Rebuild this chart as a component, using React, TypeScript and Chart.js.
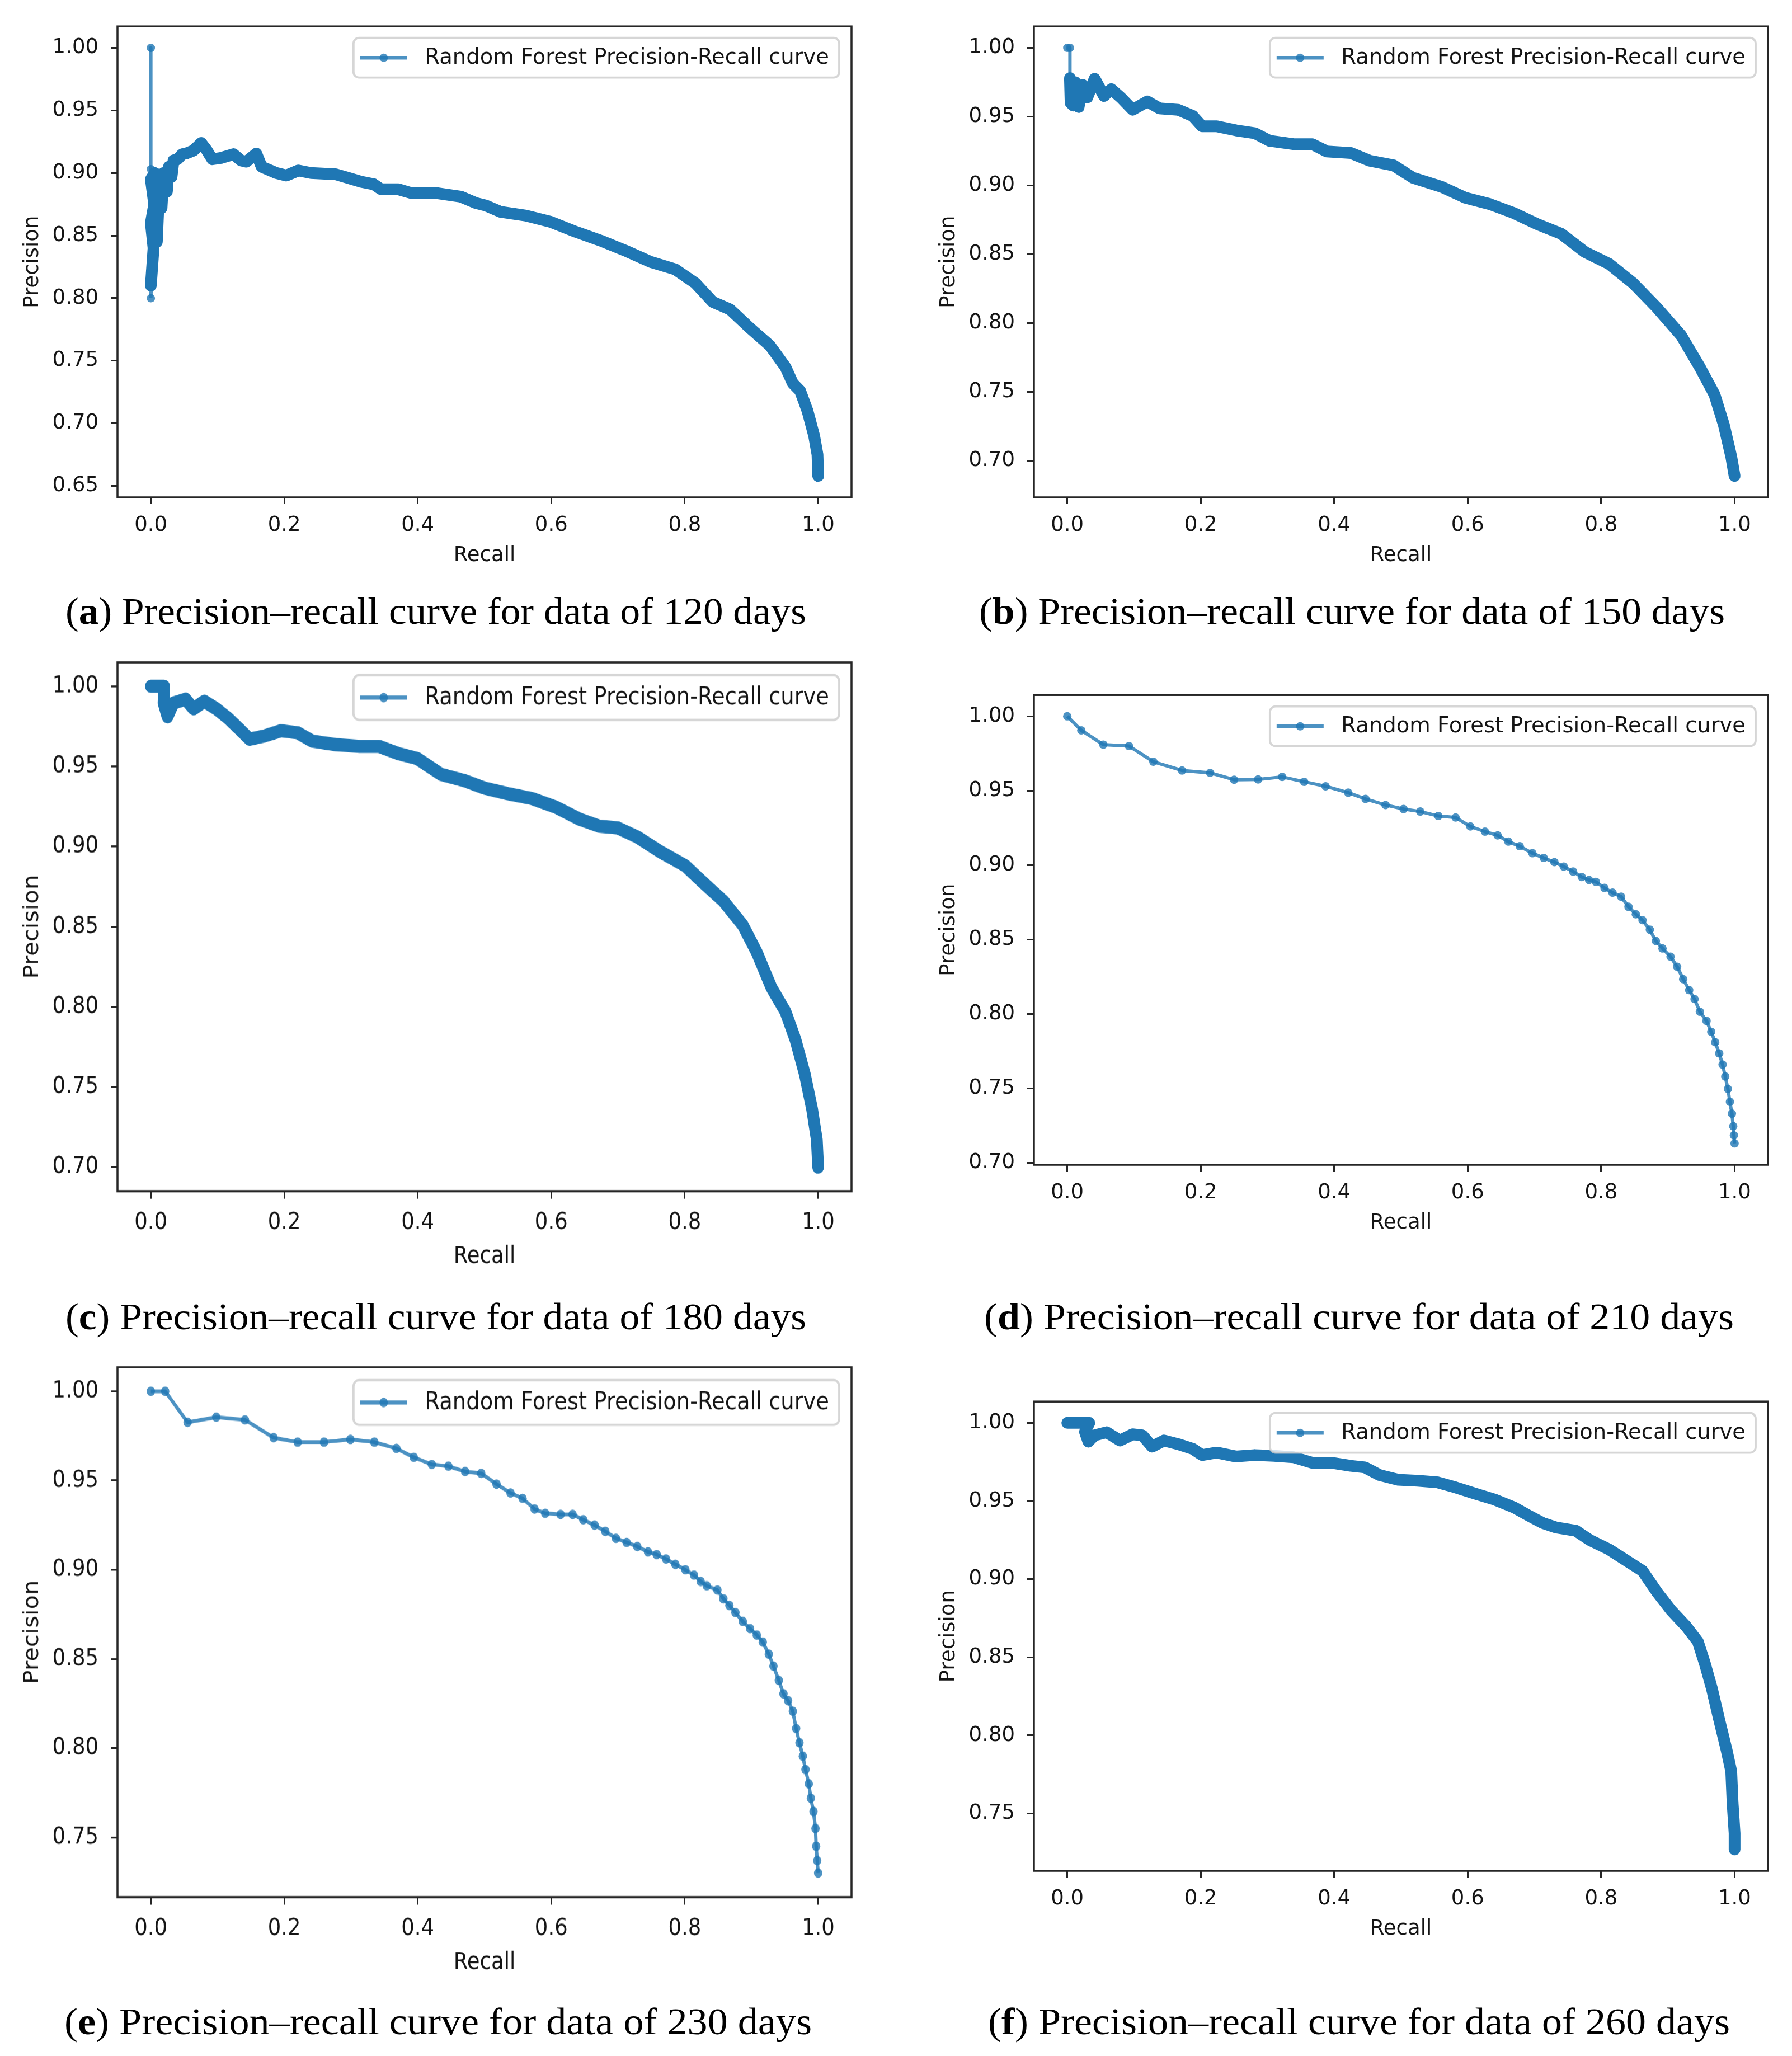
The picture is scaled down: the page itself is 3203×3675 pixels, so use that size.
import React, { useEffect, useLayoutEffect, useRef } from 'react';
import { Chart, registerables } from 'chart.js';

Chart.register(...registerables);

// ---------------- data ----------------
const LEGEND_LABEL = 'Random Forest Precision-Recall curve';
const X_TITLE = 'Recall';
const Y_TITLE = 'Precision';
const X_TICKS = [0, 0.2, 0.4, 0.6, 0.8, 1.0];
const Y_TICKS_A = [0.65, 0.7, 0.75, 0.8, 0.85, 0.9, 0.95, 1.0];
const Y_TICKS_BCD = [0.7, 0.75, 0.8, 0.85, 0.9, 0.95, 1.0];
const Y_TICKS_EF = [0.75, 0.8, 0.85, 0.9, 0.95, 1.0];

// (a) 120 days  [recall, precision]
const A_SPIKE = [[0, 1.0], [0, 0.903]];
const A_LOW = [[0.0, 0.8], [0.001, 0.815], [0.002, 0.83]];
const A_DENSE = [
  [0.0, 0.81], [0.004, 0.84], [0.0, 0.86], [0.005, 0.875], [0.0, 0.895], [0.006, 0.9], [0.004, 0.86],
  [0.009, 0.845], [0.011, 0.87], [0.012, 0.895], [0.016, 0.872], [0.019, 0.9], [0.024, 0.885],
  [0.027, 0.905], [0.031, 0.897], [0.034, 0.91], [0.04, 0.911], [0.047, 0.915], [0.055, 0.916],
  [0.064, 0.918], [0.0755, 0.924], [0.084, 0.918], [0.092, 0.911], [0.105, 0.912], [0.124, 0.915],
  [0.135, 0.91], [0.143, 0.909], [0.158, 0.9155], [0.166, 0.905], [0.188, 0.9], [0.203, 0.898],
  [0.221, 0.902], [0.24, 0.9], [0.277, 0.899], [0.296, 0.896], [0.315, 0.893], [0.334, 0.891],
  [0.345, 0.887], [0.371, 0.887], [0.39, 0.884], [0.428, 0.884], [0.465, 0.881], [0.487, 0.876],
  [0.502, 0.874], [0.524, 0.869], [0.562, 0.866], [0.599, 0.861], [0.637, 0.853], [0.674, 0.846],
  [0.711, 0.838], [0.749, 0.829], [0.786, 0.823], [0.816, 0.812], [0.842, 0.797], [0.868, 0.791],
  [0.898, 0.776], [0.928, 0.762], [0.951, 0.745], [0.962, 0.732], [0.973, 0.726], [0.984, 0.71],
  [0.994, 0.69], [0.999, 0.675], [1.0, 0.658],
];

// (b) 150 days
const B_SPIKE = [[0.0, 1.0], [0.004, 1.0], [0.004, 0.978]];
const B_DENSE = [
  [0.004, 0.978], [0.005, 0.96], [0.009, 0.958], [0.012, 0.975], [0.017, 0.957], [0.023, 0.973],
  [0.03, 0.964], [0.041, 0.9775], [0.055, 0.965], [0.066, 0.97], [0.08, 0.964], [0.098, 0.955],
  [0.12, 0.961], [0.138, 0.956], [0.166, 0.955], [0.188, 0.9505], [0.202, 0.943], [0.224, 0.943],
  [0.253, 0.94], [0.281, 0.938], [0.303, 0.9325], [0.339, 0.93], [0.367, 0.93], [0.389, 0.9247],
  [0.425, 0.9236], [0.453, 0.918], [0.489, 0.9146], [0.518, 0.9056], [0.561, 0.899], [0.597, 0.891],
  [0.633, 0.8865], [0.669, 0.88], [0.704, 0.872], [0.74, 0.865], [0.776, 0.8516], [0.812, 0.843],
  [0.848, 0.829], [0.884, 0.811], [0.92, 0.791], [0.948, 0.768], [0.97, 0.748], [0.984, 0.726],
  [0.995, 0.703], [1.0, 0.689],
];

// (c) 180 days
const C_DENSE = [
  [0, 1.0], [0.01, 1.0], [0.02, 1.0], [0.019, 0.9896], [0.025, 0.981], [0.034, 0.9896], [0.052, 0.992],
  [0.064, 0.986], [0.08, 0.9907], [0.098, 0.986], [0.116, 0.98], [0.13, 0.9744], [0.148, 0.967],
  [0.17, 0.969], [0.195, 0.9723], [0.22, 0.971], [0.242, 0.9658], [0.277, 0.9636], [0.313, 0.9625],
  [0.342, 0.9625], [0.371, 0.958], [0.399, 0.955], [0.435, 0.945], [0.471, 0.941], [0.5, 0.9365],
  [0.535, 0.933], [0.571, 0.93], [0.607, 0.9246], [0.643, 0.917], [0.672, 0.9127], [0.7, 0.9116],
  [0.729, 0.906], [0.765, 0.8964], [0.801, 0.888], [0.829, 0.877], [0.858, 0.866], [0.887, 0.851],
  [0.908, 0.834], [0.93, 0.812], [0.951, 0.797], [0.966, 0.7795], [0.98, 0.758], [0.991, 0.736],
  [0.998, 0.717], [1.0, 0.7],
];

// (d) 210 days
const D_POINTS = [
  [0.0, 1.0], [0.021, 0.9906], [0.054, 0.981], [0.0925, 0.98], [0.129, 0.9695], [0.172, 0.9636],
  [0.214, 0.962], [0.25, 0.9574], [0.286, 0.9576], [0.322, 0.9593], [0.355, 0.956], [0.387, 0.953],
  [0.421, 0.9487], [0.447, 0.9445], [0.477, 0.9404], [0.504, 0.9377], [0.529, 0.936], [0.556, 0.933],
  [0.582, 0.932], [0.604, 0.926], [0.626, 0.9225], [0.645, 0.92], [0.661, 0.9158], [0.678, 0.9127],
  [0.697, 0.908], [0.714, 0.9048], [0.73, 0.902], [0.744, 0.899], [0.758, 0.8957], [0.771, 0.892],
  [0.782, 0.89], [0.792, 0.8888], [0.805, 0.8847], [0.817, 0.8815], [0.83, 0.8788], [0.841, 0.872],
  [0.852, 0.867], [0.862, 0.863], [0.873, 0.8566], [0.882, 0.849], [0.892, 0.844], [0.904, 0.8385],
  [0.914, 0.8317], [0.923, 0.8234], [0.932, 0.816], [0.94, 0.81], [0.948, 0.8015], [0.958, 0.7953],
  [0.965, 0.788], [0.971, 0.781], [0.977, 0.7735], [0.982, 0.766], [0.986, 0.758], [0.99, 0.7496],
  [0.993, 0.741], [0.996, 0.733], [0.998, 0.7246], [0.999, 0.7184], [1.0, 0.713],
];

// (e) 230 days
const E_POINTS = [
  [0.0, 1.0], [0.0215, 1.0], [0.055, 0.9826], [0.098, 0.9855], [0.141, 0.984], [0.184, 0.974],
  [0.22, 0.9715], [0.2595, 0.9715], [0.299, 0.973], [0.335, 0.9715], [0.368, 0.968], [0.394, 0.963],
  [0.421, 0.959], [0.446, 0.958], [0.471, 0.955], [0.495, 0.954], [0.518, 0.948], [0.539, 0.943],
  [0.557, 0.94], [0.575, 0.934], [0.591, 0.9316], [0.614, 0.931], [0.632, 0.931], [0.648, 0.928],
  [0.665, 0.925], [0.681, 0.9215], [0.697, 0.9176], [0.713, 0.9153], [0.729, 0.913], [0.745, 0.91],
  [0.758, 0.9085], [0.772, 0.906], [0.786, 0.903], [0.801, 0.9], [0.814, 0.897], [0.824, 0.8934],
  [0.833, 0.891], [0.849, 0.8886], [0.858, 0.8837], [0.867, 0.88], [0.876, 0.876], [0.887, 0.871],
  [0.898, 0.867], [0.908, 0.8634], [0.917, 0.8595], [0.926, 0.8527], [0.933, 0.846], [0.941, 0.838],
  [0.948, 0.8304], [0.955, 0.8266], [0.962, 0.8207], [0.967, 0.811], [0.972, 0.803], [0.977, 0.7955],
  [0.981, 0.788], [0.986, 0.78], [0.989, 0.772], [0.993, 0.7645], [0.996, 0.755], [0.997, 0.745],
  [0.9986, 0.737], [1.0, 0.73],
];

// (f) 260 days
const F_DENSE = [
  [0, 1.0], [0.02, 1.0], [0.033, 1.0], [0.0265, 0.9943], [0.0316, 0.988], [0.041, 0.992], [0.059, 0.994],
  [0.079, 0.9887], [0.098, 0.9927], [0.1126, 0.992], [0.127, 0.9848], [0.145, 0.9887], [0.166, 0.9864],
  [0.188, 0.9834], [0.202, 0.9794], [0.224, 0.981], [0.2525, 0.9785], [0.281, 0.9794], [0.31, 0.9789],
  [0.339, 0.978], [0.367, 0.9745], [0.396, 0.9745], [0.425, 0.9725], [0.446, 0.9715], [0.468, 0.9666],
  [0.496, 0.9636], [0.525, 0.963], [0.554, 0.962], [0.582, 0.9587], [0.611, 0.9547], [0.64, 0.951],
  [0.669, 0.946], [0.69, 0.941], [0.712, 0.936], [0.733, 0.933], [0.762, 0.931], [0.783, 0.925],
  [0.812, 0.919], [0.841, 0.911], [0.862, 0.9053], [0.884, 0.8915], [0.905, 0.88], [0.927, 0.87],
  [0.945, 0.86], [0.9555, 0.846], [0.966, 0.83], [0.977, 0.81], [0.988, 0.7907], [0.995, 0.777],
  [0.997, 0.757], [1.0, 0.7374], [1.0, 0.727],
];

// ---------------- styles ----------------
const BLUE = '#1f77b4';
const BLUE_A = 'rgba(31,119,180,0.8)';
const FONT_FAMILY = '"DejaVu Sans", "Noto Sans", sans-serif';
const FONT_SIZE = 37;
const LEGEND_FONT_SIZE = 38.5;
const TEXT_COLOR = '#141414';
const SPINE_COLOR = '#262626';

const CA_LEFT = 210; // internal chart-area left
const CA_RIGHT = 1522; // internal chart-area right
const TOP_PAD = 30;
const X_AXIS_H = 150;

type Series = { pts: number[][]; kind: 'thin' | 'dense' };
type PanelCfg = {
  letter: string;
  days: number;
  left: number;
  width: number;
  chartTop: number;
  chartBottom: number;
  stretch: number;
  yTicks: number[];
  series: Series[];
  capLeft: number;
  capWidth: number;
  capCenter: number;
};

const PANELS: PanelCfg[] = [
  {
    letter: 'a', days: 120, left: 0, width: 1600, chartTop: 33, chartBottom: 889, stretch: 1,
    yTicks: Y_TICKS_A,
    series: [{ pts: A_DENSE, kind: 'dense' }, { pts: A_SPIKE, kind: 'thin' }, { pts: A_LOW, kind: 'thin' }],
    capLeft: 117, capWidth: 1324, capCenter: 1092,
  },
  {
    letter: 'b', days: 150, left: 1638, width: 1565, chartTop: 33, chartBottom: 889, stretch: 1,
    yTicks: Y_TICKS_BCD,
    series: [{ pts: B_DENSE, kind: 'dense' }, { pts: B_SPIKE, kind: 'thin' }],
    capLeft: 1750, capWidth: 1333, capCenter: 1092,
  },
  {
    letter: 'c', days: 180, left: 0, width: 1600, chartTop: 1167.6, chartBottom: 2129, stretch: 1.126,
    yTicks: Y_TICKS_BCD,
    series: [{ pts: C_DENSE, kind: 'dense' }],
    capLeft: 117, capWidth: 1324, capCenter: 2353,
  },
  {
    letter: 'd', days: 210, left: 1638, width: 1565, chartTop: 1228.4, chartBottom: 2082.5, stretch: 1,
    yTicks: Y_TICKS_BCD,
    series: [{ pts: D_POINTS, kind: 'thin' }],
    capLeft: 1759, capWidth: 1340, capCenter: 2353,
  },
  {
    letter: 'e', days: 230, left: 0, width: 1600, chartTop: 2428, chartBottom: 3391, stretch: 1.126,
    yTicks: Y_TICKS_EF,
    series: [{ pts: E_POINTS, kind: 'thin' }],
    capLeft: 115, capWidth: 1336, capCenter: 3613,
  },
  {
    letter: 'f', days: 260, left: 1638, width: 1565, chartTop: 2491, chartBottom: 3344, stretch: 1,
    yTicks: Y_TICKS_EF,
    series: [{ pts: F_DENSE, kind: 'dense' }],
    capLeft: 1766, capWidth: 1326, capCenter: 3613,
  },
];

// ---------------- plugins ----------------
const framePlugin = {
  id: 'prFrame',
  afterDatasetsDraw(chart: any) {
    const { ctx, chartArea } = chart;
    const { left, top, right, bottom } = chartArea;
    ctx.save();
    // spines
    ctx.strokeStyle = SPINE_COLOR;
    ctx.lineWidth = 3.5;
    ctx.strokeRect(left, top, right - left, bottom - top);
    // legend
    ctx.font = `${LEGEND_FONT_SIZE}px ${FONT_FAMILY}`;
    const tw = ctx.measureText(LEGEND_LABEL).width;
    const boxRight = right - 22;
    const boxTop = top + 20.5;
    const boxH = 71;
    const boxLeft = boxRight - (tw + 127.5 + 18);
    const r = 10;
    ctx.beginPath();
    ctx.moveTo(boxLeft + r, boxTop);
    ctx.lineTo(boxRight - r, boxTop);
    ctx.arcTo(boxRight, boxTop, boxRight, boxTop + r, r);
    ctx.lineTo(boxRight, boxTop + boxH - r);
    ctx.arcTo(boxRight, boxTop + boxH, boxRight - r, boxTop + boxH, r);
    ctx.lineTo(boxLeft + r, boxTop + boxH);
    ctx.arcTo(boxLeft, boxTop + boxH, boxLeft, boxTop + boxH - r, r);
    ctx.lineTo(boxLeft, boxTop + r);
    ctx.arcTo(boxLeft, boxTop, boxLeft + r, boxTop, r);
    ctx.closePath();
    ctx.fillStyle = 'rgba(255,255,255,0.8)';
    ctx.fill();
    ctx.strokeStyle = 'rgba(204,204,204,0.8)';
    ctx.lineWidth = 3.8;
    ctx.stroke();
    const cy = boxTop + boxH / 2;
    ctx.strokeStyle = BLUE_A;
    ctx.lineWidth = 6.5;
    ctx.beginPath();
    ctx.moveTo(boxLeft + 12, cy);
    ctx.lineTo(boxLeft + 96, cy);
    ctx.stroke();
    ctx.fillStyle = BLUE_A;
    ctx.beginPath();
    ctx.arc(boxLeft + 54, cy, 7.5, 0, Math.PI * 2);
    ctx.fill();
    ctx.fillStyle = TEXT_COLOR;
    ctx.textBaseline = 'middle';
    ctx.textAlign = 'left';
    ctx.fillText(LEGEND_LABEL, boxLeft + 127.5, cy + 1);
    ctx.restore();
  },
};

// ---------------- components ----------------
function PRPanel({ cfg }: { cfg: PanelCfg }) {
  const ref = useRef<HTMLCanvasElement | null>(null);
  const s = cfg.stretch;
  const chartH = (cfg.chartBottom - cfg.chartTop) / s;
  const hInt = Math.round(TOP_PAD + chartH + X_AXIS_H);
  const cssTop = cfg.chartTop - TOP_PAD * s;

  useEffect(() => {
    const canvas = ref.current;
    if (!canvas) return;
    let dmin = Infinity;
    let dmax = -Infinity;
    cfg.series.forEach((sr) => sr.pts.forEach((p) => { dmin = Math.min(dmin, p[1]); dmax = Math.max(dmax, p[1]); }));
    const margin = 0.05 * (dmax - dmin);
    const font = { family: FONT_FAMILY, size: FONT_SIZE };
    const datasets = cfg.series.map((sr) => {
      const data = sr.pts.map(([x, y]) => ({ x, y }));
      if (sr.kind === 'dense') {
        return {
          data, borderColor: BLUE, borderWidth: 21, pointRadius: 0, tension: 0,
          borderJoinStyle: 'round', borderCapStyle: 'round', fill: false,
        };
      }
      return {
        data, borderColor: BLUE_A, borderWidth: 6, pointRadius: 7.5, pointBorderWidth: 0,
        pointBackgroundColor: BLUE_A, tension: 0, fill: false, borderJoinStyle: 'round',
      };
    });
    const chart = new Chart(canvas, {
      type: 'line',
      data: { datasets: datasets as any },
      plugins: [framePlugin],
      options: {
        responsive: false,
        animation: false,
        devicePixelRatio: 1,
        events: [],
        layout: { padding: { left: 0, top: TOP_PAD, right: cfg.width - CA_RIGHT, bottom: 0 } },
        plugins: { legend: { display: false }, tooltip: { enabled: false }, title: { display: false } },
        scales: {
          x: {
            type: 'linear',
            position: 'bottom',
            min: -0.05,
            max: 1.05,
            afterBuildTicks: (scale: any) => { scale.ticks = X_TICKS.map((value) => ({ value })); },
            afterFit: (scale: any) => { scale.height = X_AXIS_H; },
            ticks: {
              font, color: TEXT_COLOR, padding: 16, autoSkip: false, maxRotation: 0, minRotation: 0,
              callback: (v: any) => Number(v).toFixed(1),
            },
            grid: { display: true, drawOnChartArea: false, drawTicks: true, tickLength: 12, tickWidth: 3, tickColor: SPINE_COLOR },
            border: { display: false },
            title: { display: true, text: X_TITLE, font, color: TEXT_COLOR, padding: { top: 0, bottom: 23 } },
          },
          y: {
            type: 'linear',
            position: 'left',
            min: dmin - margin,
            max: dmax + margin,
            afterBuildTicks: (scale: any) => { scale.ticks = cfg.yTicks.map((value) => ({ value })); },
            afterFit: (scale: any) => { scale.width = CA_LEFT; },
            ticks: {
              font, color: TEXT_COLOR, padding: 22, autoSkip: false,
              callback: (v: any) => Number(v).toFixed(2),
            },
            grid: { display: true, drawOnChartArea: false, drawTicks: true, tickLength: 12, tickWidth: 3, tickColor: SPINE_COLOR },
            border: { display: false },
            title: { display: true, text: Y_TITLE, font, color: TEXT_COLOR, padding: { top: 36, bottom: 0 } },
          },
        },
      } as any,
    });
    return () => chart.destroy();
  }, [cfg]);

  return (
    <canvas
      ref={ref}
      width={cfg.width}
      height={hInt}
      style={{ position: 'absolute', left: cfg.left, top: cssTop, width: `${cfg.width}px`, height: `${hInt * s}px` }}
    />
  );
}

const CAP_FONT = 68;

function Caption({ cfg }: { cfg: PanelCfg }) {
  const ref = useRef<HTMLSpanElement | null>(null);
  useLayoutEffect(() => {
    const el = ref.current;
    if (!el) return;
    const fit = () => {
      el.style.transform = 'none';
      const w = el.getBoundingClientRect().width;
      if (w > 0) el.style.transform = `scaleX(${cfg.capWidth / w})`;
    };
    fit();
    const f: any = (document as any).fonts;
    if (f && f.ready) f.ready.then(fit);
  }, [cfg]);
  return (
    <div
      style={{
        position: 'absolute', left: cfg.capLeft, top: cfg.capCenter - 0.5065 * CAP_FONT,
        whiteSpace: 'nowrap', fontFamily: '"Liberation Serif", "DejaVu Serif", serif',
        fontSize: CAP_FONT, lineHeight: `${CAP_FONT}px`, color: '#000',
      }}
    >
      <span ref={ref} style={{ display: 'inline-block', transformOrigin: '0 0' }}>
        (<b>{cfg.letter}</b>) Precision–recall curve for data of {cfg.days} days
      </span>
    </div>
  );
}

export default function App() {
  return (
    <div style={{ position: 'absolute', left: 0, top: 0, width: 3203, height: 3675, background: '#fff', overflow: 'hidden' }}>
      {PANELS.map((p) => (
        <React.Fragment key={p.letter}>
          <PRPanel cfg={p} />
          <Caption cfg={p} />
        </React.Fragment>
      ))}
    </div>
  );
}
